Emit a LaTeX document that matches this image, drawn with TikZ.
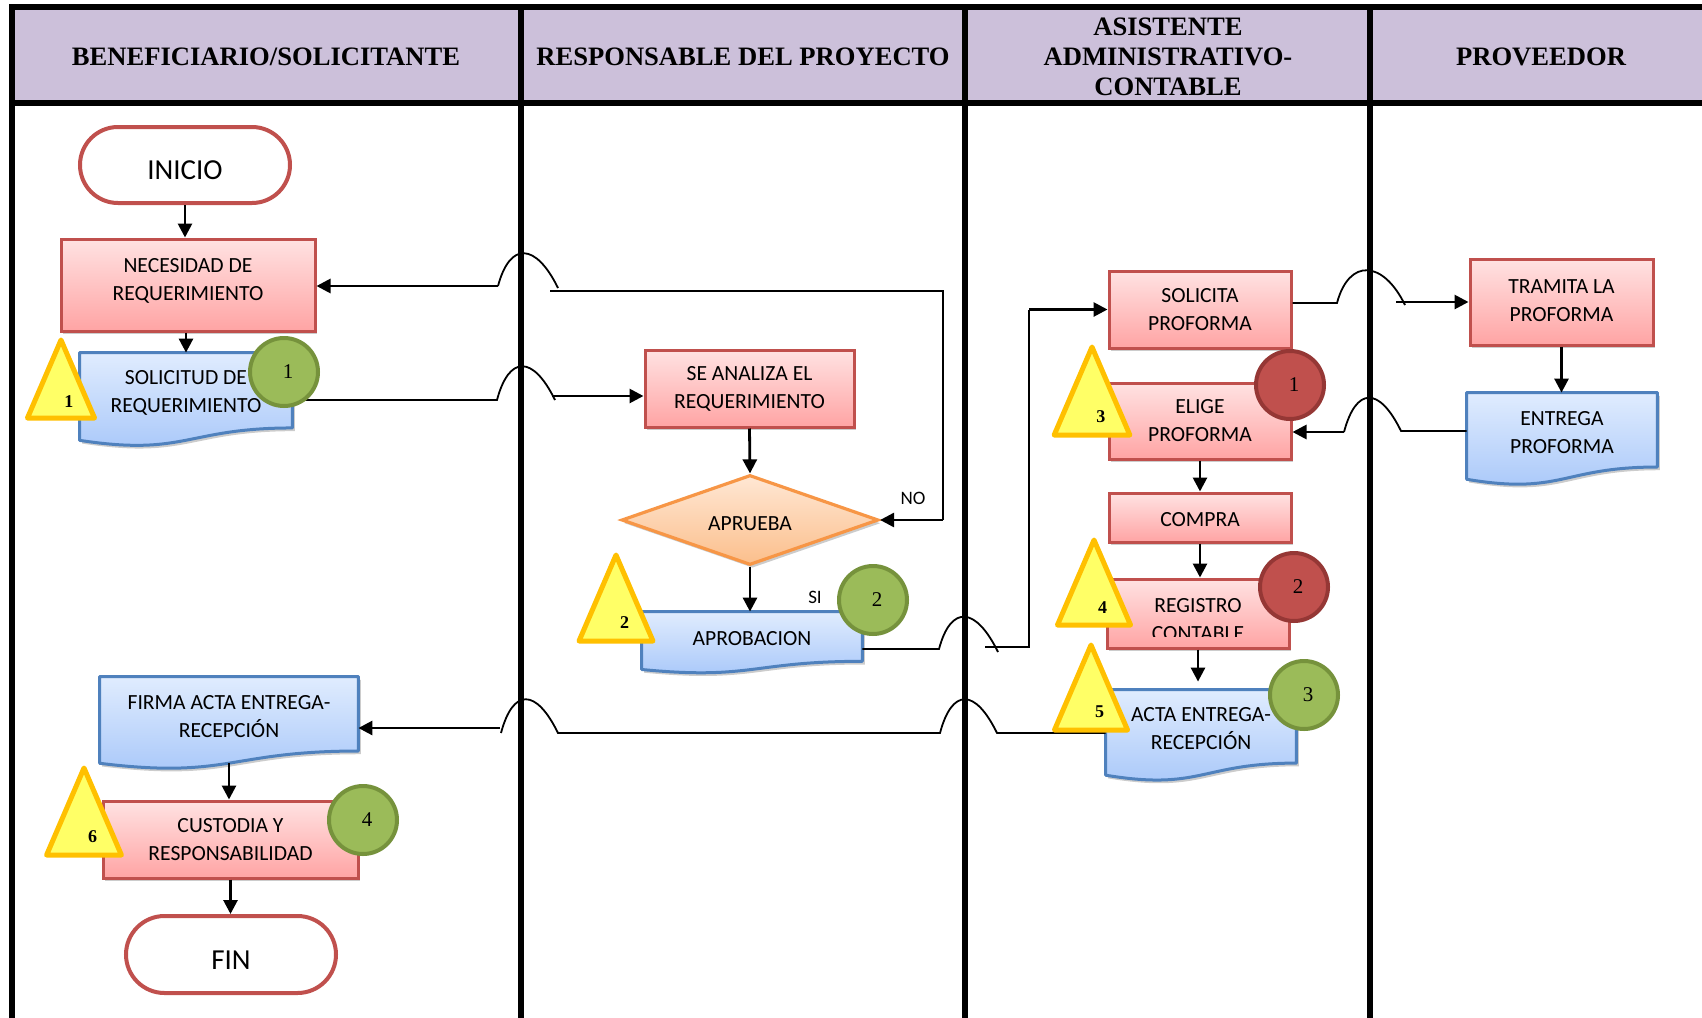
\documentclass[tikz,border=0pt]{standalone}
\usepackage{fontspec}
\newfontfamily\calib{Carlito}
\newfontfamily\tnr{Liberation Serif}
\usetikzlibrary{shapes.geometric,shapes.misc,arrows.meta,calc,shadows}

\pgfdeclarelayer{lanes}
\pgfdeclarelayer{docs}
\pgfsetlayers{lanes,docs,main}

\definecolor{lanehead}{HTML}{CCC0DA}
\definecolor{redline}{HTML}{C0504D}
\definecolor{redtop}{HTML}{FFE2E2}
\definecolor{redbot}{HTML}{FFA4A4}
\definecolor{blueline}{HTML}{4F81BD}
\definecolor{bluetop}{HTML}{E0ECFE}
\definecolor{bluebot}{HTML}{A6C6F9}
\definecolor{orline}{HTML}{F79646}
\definecolor{ortop}{HTML}{FFE7D4}
\definecolor{orbot}{HTML}{FBBF8C}
\definecolor{triline}{HTML}{FFC000}
\definecolor{trifill}{HTML}{FFFF66}
\definecolor{grnfill}{HTML}{9BBB59}
\definecolor{grnline}{HTML}{76923C}
\definecolor{redfill}{HTML}{C0504D}
\definecolor{redring}{HTML}{953735}

\newcommand\flbox{\calib\fontsize{10.8}{14}\selectfont}
\newcommand\flterm{\calib\fontsize{14.5}{17}\selectfont}
\newcommand\flhdr{\tnr\bfseries\fontsize{13.3}{15}\selectfont}
\newcommand\flnum{\tnr\fontsize{10.5}{12}\selectfont}
\newcommand\fltri{\tnr\bfseries\fontsize{9}{11}\selectfont}
\newcommand\flsmall{\calib\fontsize{9.5}{11}\selectfont}

% document symbol: flat top, straight sides, wavy bottom below the node body
\newcommand\docshape[1]{%
  \path[docfill] (#1.north west) -- (#1.north east)
    -- ($(#1.north east)!0.9326!(#1.south east)$)
    .. controls ($(#1.north)!0.9326!(#1.south)$) and ($(#1.north)!1.287!(#1.south)$)
    .. ($(#1.north west)!1.086!(#1.south west)$) -- cycle;}

\begin{document}
\begin{tikzpicture}[x=0.5pt, y=-0.5pt,
  lanerule/.style={line width=3pt, line cap=rect, line join=miter},
  header/.style={font=\flhdr, align=center, inner sep=0pt},
  softshadow/.style={drop shadow={shadow xshift=1.2pt, shadow yshift=-1.6pt, opacity=0.2, fill=black}},
  process/.style={rectangle, draw=redline, line width=1.5pt, top color=redtop, bottom color=redbot,
    font=\flbox, align=center, inner sep=2pt, softshadow},
  docnode/.style={rectangle, inner sep=2pt, font=\flbox, align=center},
  docfill/.style={draw=blueline, line width=1.5pt, top color=bluetop, bottom color=bluebot,
    line join=round, softshadow},
  terminal/.style={rounded rectangle, draw=redline, line width=2pt, fill=white, font=\flterm, inner sep=0pt},
  decision/.style={diamond, shape aspect=2.85, draw=orline, line width=1.6pt, top color=ortop, bottom color=orbot,
    font=\flbox, inner sep=0pt, softshadow},
  greenmark/.style={circle, fill=grnfill, draw=grnline, line width=2pt, minimum size=34pt, inner sep=0pt,
    font=\flnum, execute at begin node={\kern4pt}},
  redmark/.style={circle, fill=redfill, draw=redring, line width=2pt, minimum size=34pt, inner sep=0pt,
    font=\flnum, execute at begin node={\kern4pt}},
  textlow/.style={execute at begin node={\rule{0pt}{#1}}},
  texthigh/.style={execute at end node={\rule[-#1]{0pt}{#1}}},
  link/.style={line width=0.9pt},
  flowarrow/.style={line width=1.4pt, -{Triangle[length=7pt,width=7pt]}},
  branch/.style={font=\flsmall, inner sep=0pt},
  hopR/.style={to path={.. controls +(12,-45) and +(-22,-45) .. (\tikztotarget)}},
  hopL/.style={to path={.. controls +(-22,-45) and +(12,-45) .. (\tikztotarget)}},
  pics/warn/.style 2 args={code={
    \path[draw=triline, fill=trifill, line width=2.5pt, line join=round]
      (0,0) -- ({-0.43*#2},#2) -- ({0.43*#2},#2) -- cycle;
    \node[font=\fltri, inner sep=0pt] (-n) at ({0.1*#2},{0.79*#2}) {#1};
  }},
]
\useasboundingbox (0,0) rectangle (1702,1017);

% ---------- swimlanes ----------
\begin{pgfonlayer}{lanes}
  \fill[white] (0,0) rectangle (1702,1017);
  \fill[lanehead] (11.5,6.5) rectangle (1710,103);
  \draw[lanerule] (11.5,1025) -- (11.5,6.5) -- (1710,6.5);
  \draw[lanerule] (11.5,103) -- (1710,103);
  \foreach \x in {521,965,1370} \draw[lanerule] (\x,6.5) -- (\x,1025);
\end{pgfonlayer}

\node[header] (h1) at (266,56.5) {BENEFICIARIO/SOLICITANTE};
\node[header] (h2) at (743,56.5) {RESPONSABLE DEL PROYECTO};
\node[header] (h3) at (1168,56.5) {ASISTENTE\\ADMINISTRATIVO-\\CONTABLE};
\node[header] (h4) at (1541,56.5) {PROVEEDOR};

% ---------- flow symbols ----------
\node[terminal, minimum width=105pt, minimum height=38pt, textlow=14.5pt] (ini) at (185,165) {INICIO};
\node[process, minimum width=127pt, minimum height=46pt, texthigh=6pt] (nec) at (188,285) {NECESIDAD DE\\REQUERIMIENTO};
\node[docnode, minimum width=106pt, minimum height=40pt, textlow=9.3pt] (sol) at (186,393) {SOLICITUD DE\\REQUERIMIENTO};
\node[process, minimum width=104.5pt, minimum height=38.5pt, textlow=10.8pt] (sea) at (749.5,388.5) {SE ANALIZA EL\\REQUERIMIENTO};
\node[decision, minimum width=128.5pt, minimum height=45pt, textlow=10.3pt] (apr) at (750,520) {APRUEBA};
\node[docnode, minimum width=110pt, minimum height=26.25pt] (apb) at (752,638.25) {APROBACION};
\node[process, minimum width=91pt, minimum height=38.5pt, textlow=8.8pt] (spf) at (1200,309.5) {SOLICITA\\PROFORMA};
\node[process, minimum width=91pt, minimum height=38pt, textlow=9.8pt] (epf) at (1200,421) {ELIGE\\PROFORMA};
\node[process, minimum width=91pt, minimum height=24.5pt, textlow=8.8pt] (com) at (1200,517.5) {COMPRA};
\node[process, minimum width=91pt, minimum height=34.5pt] (reg) at (1198,613.5) {};
\begin{scope}
  \clip ([yshift=6.75pt]reg.south west) rectangle (reg.north east);
  \node[font=\flbox, align=center] (regtxt) at ([yshift=-3.25pt]reg.center) {REGISTRO\\CONTABLE};
\end{scope}
\node[docnode, minimum width=95pt, minimum height=39pt, textlow=8.3pt] (act) at (1201,729) {ACTA ENTREGA-\\RECEPCIÓN};
\node[process, minimum width=91.5pt, minimum height=43pt, texthigh=1.5pt] (tpf) at (1561.5,302) {TRAMITA LA\\PROFORMA};
\node[docnode, minimum width=95pt, minimum height=39.5pt] (dpf) at (1562,432.5) {ENTREGA\\PROFORMA};
\node[docnode, minimum width=129pt, minimum height=39.5pt, textlow=7.8pt] (fir) at (229,716.5) {FIRMA ACTA ENTREGA-\\RECEPCIÓN};
\node[process, minimum width=127.5pt, minimum height=38.5pt, textlow=7.8pt] (cus) at (230.5,839.5) {CUSTODIA Y\\RESPONSABILIDAD};
\node[terminal, minimum width=105pt, minimum height=38.5pt, textlow=14.8pt] (fin) at (231,954.5) {FIN};

\begin{pgfonlayer}{docs}
  \docshape{sol}
  \docshape{apb}
  \docshape{dpf}
  \docshape{act}
  \docshape{fir}
\end{pgfonlayer}

% ---------- vertical flow ----------
\draw[flowarrow] (ini.south) -- (ini.south |- nec.north);
\draw[flowarrow] (sol.north |- nec.south) -- (sol.north);
\draw[flowarrow] (sea.south) -- (apr.north);
\draw[flowarrow] (apr.south) -- (apr.south |- apb.north);
\draw[flowarrow] (epf.south) -- (com.north);
\draw[flowarrow] (com.south) -- (com.south |- reg.north);
\draw[flowarrow] (reg.south) -- ([yshift=4pt]reg.south |- act.north);
\draw[flowarrow] (tpf.south) -- (tpf.south |- dpf.north);
\coordinate (firbot) at ($(fir.north)!1.085!(fir.south)$);
\draw[flowarrow] (firbot) -- (firbot |- cus.north);
\draw[flowarrow] (cus.south) -- (cus.south |- fin.north);

% ---------- NO: back to NECESIDAD DE REQUERIMIENTO ----------
\coordinate (noTop) at (943,291);
\coordinate (ret1) at (550,291);
\coordinate (hop1r) at (558,288);
\coordinate (hop1l) at (498,286);
\draw[link] (apr.east -| noTop) -- (noTop) -- (ret1);
\draw[link] (hop1r) to[hopL] (hop1l);
\draw[flowarrow] (apr.east -| noTop) -- (apr.east);
\draw[flowarrow] (hop1l) -- (hop1l -| nec.east);
\node[branch] (nolab) at (913,498) {NO};

% ---------- SOLICITUD -> SE ANALIZA ----------
\coordinate (hop2l) at (497,400);
\coordinate (hop2r) at (555,400);
\coordinate (in2) at (552,396);
\draw[link] (hop2l -| sol.east) -- (hop2l) to[hopR] (hop2r);
\draw[flowarrow] (in2) -- (in2 -| sea.west);

% ---------- APROBACION -> SOLICITA PROFORMA ----------
\coordinate (hop3l) at (939,649);
\coordinate (hop3r) at (998,652);
\coordinate (up3) at (985,647);
\coordinate (turn3) at (1029,647);
\draw[link] (hop3l -| apb.east) -- (hop3l) to[hopR] (hop3r);
\draw[link] (up3) -- (turn3) -- (turn3 |- spf.west);
\draw[flowarrow] (turn3 |- spf.west) -- (spf.west);
\node[branch] (silab) at (815,597) {SI};

% ---------- SOLICITA -> TRAMITA ----------
\coordinate (hop4l) at (1337,303);
\coordinate (hop4r) at (1405,305);
\coordinate (in4) at (1396,302);
\draw[link] (hop4l -| spf.east) -- (hop4l) to[hopR] (hop4r);
\draw[flowarrow] (in4) -- (in4 -| tpf.west);

% ---------- ENTREGA -> ELIGE ----------
\coordinate (hop5r) at (1401,431);
\coordinate (hop5l) at (1344,432);
\draw[link] (hop5r -| dpf.west) -- (hop5r) to[hopL] (hop5l);
\draw[flowarrow] (hop5l) -- (hop5l -| epf.east);

% ---------- ACTA -> FIRMA ACTA ----------
\coordinate (hop6r) at (997,733);
\coordinate (hop6l) at (940,733);
\coordinate (hop7r) at (558,733);
\coordinate (hop7l) at (501,733);
\coordinate (in7) at (500,728);
\draw[link] (hop6r -| act.west) -- (hop6r) to[hopL] (hop6l) -- (hop7r) to[hopL] (hop7l);
\draw[flowarrow] (in7) -- (in7 -| fir.east);

% ---------- control markers ----------
\pic (t1) at (61,340) {warn={1}{78}};
\pic (t2) at (616,555) {warn={2}{86}};
\pic (t3) at (1092,347) {warn={3}{88}};
\pic (t4) at (1094,540) {warn={4}{85}};
\pic (t5) at (1091,645) {warn={5}{85}};
\pic (t6) at (84,768) {warn={6}{87}};

\node[greenmark] (g1) at (284,372) {1};
\node[greenmark] (g2) at (873,600) {2};
\node[greenmark] (g3) at (1304,695) {3};
\node[greenmark] (g4) at (363,820) {4};
\node[redmark] (r1) at (1290,385) {1};
\node[redmark] (r2) at (1294,587) {2};
\end{tikzpicture}
\end{document}
